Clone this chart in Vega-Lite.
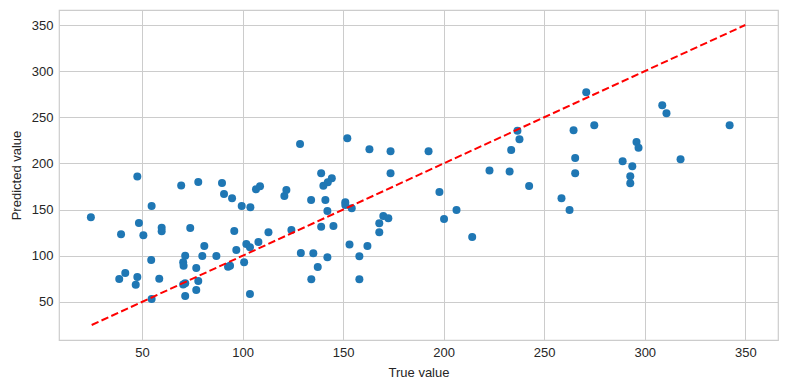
{
  "$schema": "https://vega.github.io/schema/vega-lite/v6.json",
  "width": 719,
  "height": 330,
  "autosize": {"type": "none"},
  "padding": {"left": 59, "top": 10, "right": 12, "bottom": 50},
  "background": "white",
  "config": {
    "font": "Liberation Sans",
    "view": {"stroke": "#cccccc", "strokeWidth": 1.2},
    "axis": {
      "grid": true,
      "gridColor": "#cccccc",
      "gridWidth": 1,
      "domain": false,
      "ticks": false,
      "labelFont": "Liberation Sans",
      "labelFontSize": 13,
      "labelColor": "#262626",
      "titleFont": "Liberation Sans",
      "titleFontSize": 13,
      "titleFontWeight": "normal",
      "titleColor": "#262626"
    }
  },
  "datasets": {
    "points": [
      {"t": 47.7, "p": 186}, {"t": 54.8, "p": 154}, {"t": 24.6, "p": 141.7}, {"t": 48.5, "p": 135.5},
      {"t": 39.6, "p": 123.2}, {"t": 50.7, "p": 122.1}, {"t": 59.8, "p": 130.4}, {"t": 59.8, "p": 126.5},
      {"t": 54.6, "p": 95.4}, {"t": 41.7, "p": 81.3}, {"t": 38.7, "p": 74.8}, {"t": 47.7, "p": 77},
      {"t": 46.9, "p": 68.6}, {"t": 58.6, "p": 75}, {"t": 54.8, "p": 53.1},
      {"t": 128.6, "p": 221.1}, {"t": 69.5, "p": 176}, {"t": 78, "p": 179.9}, {"t": 89.8, "p": 178.8},
      {"t": 90.8, "p": 166.9}, {"t": 94.8, "p": 162.2}, {"t": 99.6, "p": 153.9}, {"t": 103.9, "p": 152.5},
      {"t": 106.7, "p": 172}, {"t": 108.7, "p": 175.2}, {"t": 120.8, "p": 164.7}, {"t": 121.8, "p": 171.2},
      {"t": 74, "p": 130.1}, {"t": 95.9, "p": 126.8}, {"t": 124.3, "p": 127.9}, {"t": 112.9, "p": 125.4},
      {"t": 81, "p": 110.6}, {"t": 101.9, "p": 112.7}, {"t": 103.7, "p": 109.1}, {"t": 107.9, "p": 115},
      {"t": 96.9, "p": 106.2}, {"t": 71.5, "p": 100}, {"t": 70.5, "p": 92.9}, {"t": 70.7, "p": 89.2},
      {"t": 80, "p": 99.7}, {"t": 87, "p": 99.7}, {"t": 77, "p": 86.7}, {"t": 92.8, "p": 88.1},
      {"t": 93.8, "p": 89.2}, {"t": 100.8, "p": 92.9}, {"t": 129, "p": 102.9}, {"t": 70.5, "p": 69},
      {"t": 71.5, "p": 70.2}, {"t": 78, "p": 72.6}, {"t": 77, "p": 62.9}, {"t": 71.5, "p": 56.4},
      {"t": 103.7, "p": 58.6},
      {"t": 152.1, "p": 227.2}, {"t": 163.1, "p": 215.3}, {"t": 173.6, "p": 213.2}, {"t": 192.5, "p": 213.2},
      {"t": 173.6, "p": 189.3}, {"t": 139.1, "p": 189.3}, {"t": 144.4, "p": 183.9}, {"t": 142.4, "p": 179.6},
      {"t": 140.2, "p": 175.9}, {"t": 197.9, "p": 169.1}, {"t": 134.1, "p": 160.4}, {"t": 141.2, "p": 160.4},
      {"t": 151.1, "p": 157.9}, {"t": 151.1, "p": 155}, {"t": 154.3, "p": 151.4}, {"t": 142.2, "p": 148.5},
      {"t": 139.1, "p": 131.5}, {"t": 145.2, "p": 132.2}, {"t": 170, "p": 143.1}, {"t": 172.5, "p": 140.6},
      {"t": 168, "p": 135.2}, {"t": 168, "p": 125.4}, {"t": 153.2, "p": 112.3}, {"t": 162.1, "p": 110.6},
      {"t": 135.2, "p": 102.7}, {"t": 142.2, "p": 98.3}, {"t": 158.1, "p": 99.4}, {"t": 137.4, "p": 87.8},
      {"t": 134.2, "p": 74.5}, {"t": 158.1, "p": 74.5},
      {"t": 270.9, "p": 277.1}, {"t": 274.9, "p": 241.3}, {"t": 264.6, "p": 235.9}, {"t": 236.7, "p": 235.5},
      {"t": 237.7, "p": 226.2}, {"t": 233.6, "p": 214.6}, {"t": 265.4, "p": 205.9}, {"t": 265.4, "p": 189.3},
      {"t": 222.8, "p": 192.5}, {"t": 232.8, "p": 191.4}, {"t": 242.5, "p": 175.5}, {"t": 258.6, "p": 162.2},
      {"t": 262.6, "p": 149.6}, {"t": 200.2, "p": 139.8}, {"t": 206.4, "p": 149.6}, {"t": 214.2, "p": 120.3},
      {"t": 308.7, "p": 263}, {"t": 310.8, "p": 254.3}, {"t": 342.2, "p": 241.3}, {"t": 295.9, "p": 223.2},
      {"t": 296.9, "p": 217}, {"t": 289, "p": 202.3}, {"t": 293.8, "p": 196.9}, {"t": 292.8, "p": 186.1},
      {"t": 292.8, "p": 178.5}, {"t": 317.8, "p": 204.5}
    ],
    "ideal": [{"t": 25, "p": 25}, {"t": 350, "p": 350}]
  },
  "layer": [
    {
      "data": {"name": "points"},
      "mark": {"type": "circle", "size": 64, "color": "#1f77b4", "opacity": 1},
      "encoding": {
        "x": {"field": "t", "type": "quantitative", "title": "True value",
              "scale": {"domain": [8.75, 366.25], "nice": false, "zero": false},
              "axis": {"values": [50, 100, 150, 200, 250, 300, 350], "labelPadding": 6, "titlePadding": 7}},
        "y": {"field": "p", "type": "quantitative", "title": "Predicted value",
              "scale": {"domain": [8.75, 366.25], "nice": false, "zero": false},
              "axis": {"values": [50, 100, 150, 200, 250, 300, 350], "labelPadding": 6, "titlePadding": 8}}
      }
    },
    {
      "data": {"name": "ideal"},
      "mark": {"type": "line", "color": "#ff0000", "strokeWidth": 2, "strokeDash": [7.5, 3.3]},
      "encoding": {
        "x": {"field": "t", "type": "quantitative"},
        "y": {"field": "p", "type": "quantitative"}
      }
    }
  ]
}
